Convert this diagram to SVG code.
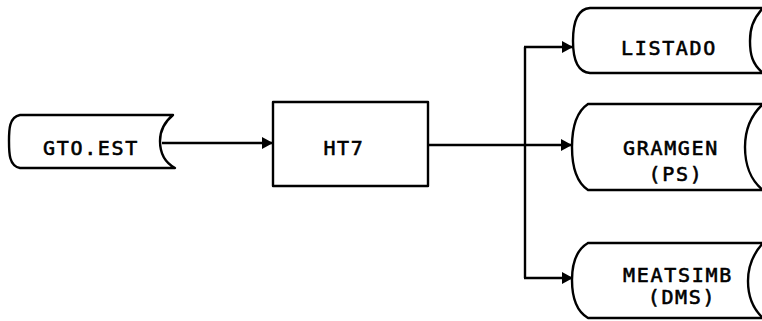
<svg xmlns="http://www.w3.org/2000/svg" width="762" height="321" viewBox="0 0 762 321">
<style>
.shape{fill:none;stroke:#000;stroke-width:2.4;stroke-linejoin:round;stroke-linecap:round}
.conn{fill:none;stroke:#000;stroke-width:2.4}
.t{font-family:"DejaVu Sans Mono","Liberation Mono",monospace;font-size:20px;letter-spacing:1.7px;fill:#000;stroke:#000;stroke-width:0.6;text-anchor:middle}
</style>
<defs>
<marker id="arr" markerUnits="userSpaceOnUse" markerWidth="13" markerHeight="13" refX="11" refY="6" orient="auto">
<path d="M0,0 L11,6 L0,12 Z" fill="#000"/>
</marker>
</defs>
<rect width="762" height="321" fill="#fff"/>
<g id="connectors">
<path class="conn" d="M162,143 H273" marker-end="url(#arr)"/>
<path class="conn" d="M428,145 H572" marker-end="url(#arr)"/>
<path class="conn" d="M525,47 V278"/>
<path class="conn" d="M524,47 H573" marker-end="url(#arr)"/>
<path class="conn" d="M524,278 H573" marker-end="url(#arr)"/>
</g>
<g id="gto">
<path class="shape" d="M20,115 H173 C162,124 160,133 160,141 C160,152 164,162 175,168 H20 C9,166 9,153 9,141 C9,130 9,117 20,115 Z"/>
<text class="t" x="91" y="155">GTO.EST</text>
</g>
<g id="ht7">
<rect class="shape" x="273" y="102" width="155" height="84"/>
<text class="t" x="344" y="155">HT7</text>
</g>
<g id="listado">
<path class="shape" d="M590,8 H770 M763,8 C752,20 750,30 750,41 C750,54 752,64 763,73 M770,73 H590 C576,72 573,57 573,41 C573,25 576,9 590,8"/>
<text class="t" x="669" y="55">LISTADO</text>
</g>
<g id="gramgen">
<path class="shape" d="M588,104 H770 M763,104 C750,116 745,132 745,147 C745,163 750,180 763,190 M770,190 H588 C576,182 572,165 572,147 C572,130 576,112 588,104"/>
<text class="t" x="671" y="155">GRAMGEN</text>
<text class="t" x="676" y="181">(PS)</text>
</g>
<g id="meatsimb">
<path class="shape" d="M588,243 H770 M763,243 C752,255 748,268 748,281 C748,296 752,308 763,318 M770,318 H588 C576,311 572,296 572,280 C572,265 576,250 588,243"/>
<text class="t" x="678" y="282">MEATSIMB</text>
<text class="t" x="682" y="304">(DMS)</text>
</g>
</svg>
